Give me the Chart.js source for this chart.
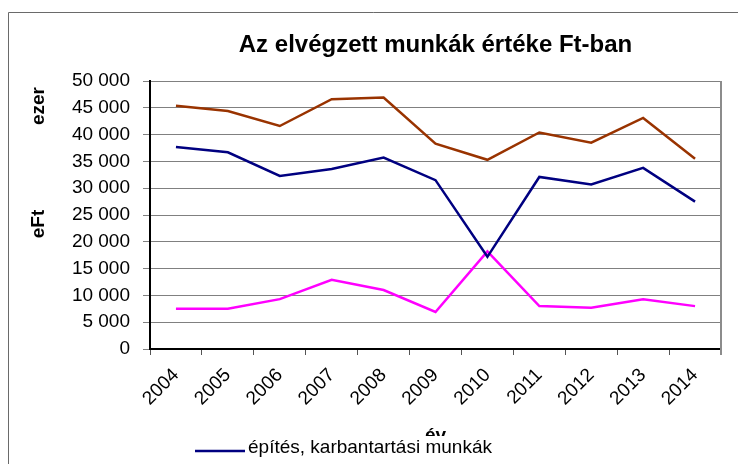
<!DOCTYPE html>
<html>
<head>
<meta charset="utf-8">
<script src="https://cdn.jsdelivr.net/npm/chart.js@4.4.1/dist/chart.umd.min.js"></script>
<style>
  html, body { margin: 0; padding: 0; background: #fff; }
  #wrap { width: 738px; height: 464px; }
</style>
</head>
<body>
<div id="wrap"><canvas id="canvas1" width="738" height="464"></canvas></div>
<script>
// adatok (ezer eFt)
var years = ['2004', '2005', '2006', '2007', '2008', '2009', '2010', '2011', '2012', '2013', '2014'];
var epites = [37700, 36700, 32300, 33600, 35700, 31500, 17200, 32100, 30700, 33800, 27500];
var egyeb = [7500, 7500, 9300, 12900, 11000, 6900, 18200, 8000, 7700, 9300, 8000];
var osszes = [45400, 44400, 41600, 46600, 46900, 38300, 35300, 40400, 38500, 43100, 35500];
var yTicks = [0, 5000, 10000, 15000, 20000, 25000, 30000, 35000, 40000, 45000, 50000];

var FONT = 'Liberation Sans, Arial, sans-serif';

function fmt(v){
    return String(v).replace(/\B(?=(\d{3})+(?!\d))/g, ' ');
}

var decor = {
    id: 'decor',
    beforeDraw: function(chart){
        var ctx = chart.ctx;
        ctx.save();
        ctx.fillStyle = '#fff';
        ctx.fillRect(0, 0, chart.width, chart.height);
        ctx.strokeStyle = '#6a6a6a';
        ctx.lineWidth = 1;
        ctx.beginPath();
        ctx.moveTo(8.5, chart.height + 5);
        ctx.lineTo(8.5, 12.5);
        ctx.lineTo(chart.width + 5, 12.5);
        ctx.stroke();
        ctx.restore();
    },
    afterDraw: function(chart){
        var ctx = chart.ctx;
        var a = chart.chartArea;
        ctx.save();
        // right border of plot
        ctx.strokeStyle = '#8c8c8c';
        ctx.lineWidth = 2;
        ctx.beginPath();
        ctx.moveTo(a.right, a.top);
        ctx.lineTo(a.right, a.bottom + 6);
        ctx.stroke();

        // y title pieces
        ctx.fillStyle = '#000';
        ctx.font = 'bold 19px ' + FONT;
        ctx.textAlign = 'center';
        ctx.textBaseline = 'middle';
        ctx.translate(39, 0);
        ctx.rotate(-Math.PI / 2);
        ctx.fillText('ezer', -106, 0);
        ctx.fillText('eFt', -224, 0);
        ctx.restore();

        // legend (first series only visible)
        ctx.save();
        var ds = chart.data.datasets[0];
        ctx.fillStyle = '#fff';
        ctx.fillRect(185, 436, 340, 28);
        ctx.strokeStyle = ds.borderColor;
        ctx.lineWidth = 2.5;
        ctx.beginPath();
        ctx.moveTo(195, 451);
        ctx.lineTo(245, 451);
        ctx.stroke();
        ctx.fillStyle = '#000';
        ctx.font = '19px ' + FONT;
        ctx.textAlign = 'left';
        ctx.textBaseline = 'middle';
        ctx.fillText(ds.label, 248, 448);
        ctx.restore();
    }
};

var chartdata = {
    labels: years,
    datasets: [
        {
            label: 'építés, karbantartási munkák',
            data: epites,
            borderColor: '#000080',
            backgroundColor: '#000080'
        },
        {
            label: 'egyéb munkák',
            data: egyeb,
            borderColor: '#ff00ff',
            backgroundColor: '#ff00ff'
        },
        {
            label: 'összesen',
            data: osszes,
            borderColor: '#993300',
            backgroundColor: '#993300'
        }
    ]
};

var ctx = document.getElementById('canvas1');
var lineGraph = new Chart(ctx, {
    type: 'line',
    data: chartdata,
    options: {
        responsive: false,
        animation: false,
        devicePixelRatio: 1,
        layout: { padding: { left: 0, right: 17, top: 0, bottom: 0 } },
        elements: {
            line: { borderWidth: 2.5, tension: 0 },
            point: { radius: 0 }
        },
        plugins: {
            legend: { display: false },
            tooltip: { enabled: false },
            title: {
                display: true,
                fullSize: false,
                text: 'Az elvégzett munkák értéke Ft-ban',
                color: '#000',
                font: { family: FONT, size: 24, weight: 'bold' },
                padding: { top: 31, bottom: 21.2 }
            }
        },
        scales: {
            x: {
                offset: true,
                afterFit: function(s){ s.height = 115; },
                grid: {
                    offset: true,
                    drawOnChartArea: false,
                    drawTicks: true,
                    tickLength: 6,
                    color: '#555'
                },
                border: { color: '#000', width: 2 },
                ticks: {
                    autoSkip: false,
                    maxRotation: 45,
                    minRotation: 45,
                    padding: 9,
                    color: '#000',
                    font: { family: FONT, size: 19 }
                },
                title: {
                    display: true,
                    text: 'év',
                    color: '#000',
                    font: { family: FONT, size: 19, weight: 'bold' },
                    padding: { top: 0, bottom: 17 }
                }
            },
            y: {
                min: 0,
                max: 50000,
                afterFit: function(s){ s.width = 150; },
                afterBuildTicks: function(s){
                    s.ticks = yTicks.map(function(v){ return { value: v }; });
                },
                grid: {
                    color: '#808080',
                    lineWidth: 1,
                    tickLength: 7
                },
                border: { color: '#000', width: 2 },
                ticks: {
                    padding: 13,
                    color: '#000',
                    font: { family: FONT, size: 19 },
                    callback: function(v){ return fmt(v); }
                }
            }
        }
    },
    plugins: [decor]
});
</script>
</body>
</html>
